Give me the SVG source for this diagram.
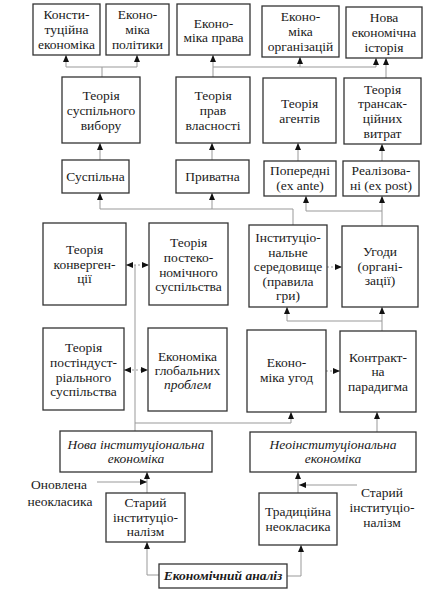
<svg xmlns="http://www.w3.org/2000/svg" width="439" height="596" viewBox="0 0 439 596">
<defs>
<marker id="ah" markerUnits="userSpaceOnUse" markerWidth="8" markerHeight="8" refX="7" refY="3" orient="auto-start-reverse">
<path d="M0,0 L7,3 L0,6 z" fill="#111"/>
</marker>
<style>
.b{fill:#fff;stroke:#333;stroke-width:1.3}
.t{font-family:"Liberation Serif","DejaVu Serif",serif;font-size:13.5px;fill:#1a1a1a;text-anchor:middle}
.i{font-style:italic}
.bi{font-style:italic;font-weight:bold}
.c{fill:none;stroke:#999;stroke-width:1}
.a{marker-end:url(#ah)}
.d{stroke-dasharray:2,2;marker-start:url(#ah);marker-end:url(#ah)}
.d1{stroke-dasharray:2,2;marker-end:url(#ah)}
</style>
</defs>
<rect width="439" height="596" fill="#fff"/>
<g id="connectors">
<path class="c" d="M102,77 V67 M66,67 H137"/>
<path class="c a" d="M66,67 V55"/>
<path class="c a" d="M137,67 V55"/>
<path class="c" d="M213,67 H376"/>
<path class="c a" d="M213,77 V55"/>
<path class="c a" d="M300,67 V57"/>
<path class="c a" d="M376,67 V58"/>
<path class="c a" d="M386,78 V58"/>
<path class="c a" d="M100,160 V143"/>
<path class="c a" d="M212,160 V143"/>
<path class="c a" d="M298,161 V143"/>
<path class="c a" d="M382,161 V144"/>
<path class="c" d="M293,225 V209 H100"/>
<path class="c a" d="M100,209 V193"/>
<path class="c a" d="M212,209 V193"/>
<path class="c" d="M382,226 V211 M306,211 H382"/>
<path class="c a" d="M306,211 V196"/>
<path class="c a" d="M382,211 V196"/>
<path class="c" d="M135,431 V265"/>
<path class="c d" d="M126,265 H149"/>
<path class="c d" d="M124,370 H148"/>
<path class="c d1" d="M327,267 H342"/>
<path class="c d1" d="M326,371 H340"/>
<path class="c a" d="M382,331 V307"/>
<path class="c" d="M382,321 H287"/>
<path class="c a" d="M287,321 V307"/>
<path class="c a" d="M135,423 H291 V412"/>
<path class="c a" d="M377,432 V412"/>
<path class="c a" d="M147,493 V472"/>
<path class="c a" d="M97,482 H147"/>
<path class="c a" d="M298,493 V472"/>
<path class="c a" d="M357,485 H299"/>
<path class="c a" d="M159,575 H147 V542"/>
<path class="c a" d="M287,576 H301 V545"/>
</g>
<g id="n1"><rect class="b" x="33" y="4" width="67" height="51"/><text class="t" x="66.5" y="19">Консти-</text><text class="t" x="66.5" y="34">туційна</text><text class="t" x="66.5" y="49">економіка</text></g>
<g id="n2"><rect class="b" x="106" y="4" width="63" height="51"/><text class="t" x="137.5" y="19">Еконо-</text><text class="t" x="137.5" y="34">міка</text><text class="t" x="137.5" y="49">політики</text></g>
<g id="n3"><rect class="b" x="177" y="4" width="73" height="51"/><text class="t" x="213.5" y="28">Еконо-</text><text class="t" x="213.5" y="42">міка права</text></g>
<g id="n4"><rect class="b" x="262" y="6" width="77" height="51"/><text class="t" x="300.5" y="21">Еконо-</text><text class="t" x="300.5" y="36">міка</text><text class="t" x="300.5" y="51">організацій</text></g>
<g id="n5"><rect class="b" x="346" y="7" width="76" height="51"/><text class="t" x="384" y="22">Нова</text><text class="t" x="384" y="37">економічна</text><text class="t" x="384" y="52">історія</text></g>
<g id="n6"><rect class="b" x="62" y="77" width="78" height="66"/><text class="t" x="101" y="99.5">Теорія</text><text class="t" x="101" y="114.5">суспільного</text><text class="t" x="101" y="129.5">вибору</text></g>
<g id="n7"><rect class="b" x="176" y="77" width="74" height="66"/><text class="t" x="213" y="99.5">Теорія</text><text class="t" x="213" y="114.5">прав</text><text class="t" x="213" y="129.5">власності</text></g>
<g id="n8"><rect class="b" x="263" y="78" width="73" height="65"/><text class="t" x="299.5" y="107.5">Теорія</text><text class="t" x="299.5" y="122.5">агентів</text></g>
<g id="n9"><rect class="b" x="344" y="78" width="77" height="66"/><text class="t" x="382.5" y="93.5">Теорія</text><text class="t" x="382.5" y="108">трансак-</text><text class="t" x="382.5" y="122.5">ційних</text><text class="t" x="382.5" y="137.5">витрат</text></g>
<g id="n10"><rect class="b" x="62" y="160" width="67" height="33"/><text class="t" x="95.5" y="181">Суспільна</text></g>
<g id="n11"><rect class="b" x="176" y="160" width="73" height="33"/><text class="t" x="212.5" y="181">Приватна</text></g>
<g id="n12"><rect class="b" x="264" y="161" width="72" height="35"/><text class="t" x="300" y="175">Попередні</text><text class="t" x="300" y="189.5">(ex ante)</text></g>
<g id="n13"><rect class="b" x="343" y="161" width="76" height="35"/><text class="t" x="381" y="175">Реалізова-</text><text class="t" x="381" y="189.5">ні (ex post)</text></g>
<g id="n14"><rect class="b" x="43" y="223" width="83" height="82"/><text class="t" x="84.5" y="254">Теорія</text><text class="t" x="84.5" y="269">конверген-</text><text class="t" x="84.5" y="283">ції</text></g>
<g id="n15"><rect class="b" x="149" y="223" width="79" height="82"/><text class="t" x="188.5" y="247">Теорія</text><text class="t" x="188.5" y="262">постеко-</text><text class="t" x="188.5" y="277">номічного</text><text class="t" x="188.5" y="291">суспільства</text></g>
<g id="n16"><rect class="b" x="249" y="225" width="78" height="82"/><text class="t" x="288" y="242">Інституціо-</text><text class="t" x="288" y="256.5">нальне</text><text class="t" x="288" y="271">середовище</text><text class="t" x="288" y="285.5">(правила</text><text class="t" x="288" y="300">гри)</text></g>
<g id="n17"><rect class="b" x="342" y="226" width="76" height="81"/><text class="t" x="380" y="256">Угоди</text><text class="t" x="380" y="271">(органі-</text><text class="t" x="380" y="285">зації)</text></g>
<g id="n18"><rect class="b" x="43" y="328" width="81" height="82"/><text class="t" x="83.5" y="352">Теорія</text><text class="t" x="83.5" y="367">постіндуст-</text><text class="t" x="83.5" y="382">ріального</text><text class="t" x="83.5" y="396">суспільства</text></g>
<g id="n19"><rect class="b" x="148" y="328" width="79" height="83"/><text class="t" x="187.5" y="361">Економіка</text><text class="t" x="187.5" y="375">глобальних</text><text class="t i" x="187.5" y="389">проблем</text></g>
<g id="n20"><rect class="b" x="247" y="330" width="79" height="82"/><text class="t" x="286.5" y="367">Еконо-</text><text class="t" x="286.5" y="382">міка угод</text></g>
<g id="n21"><rect class="b" x="340" y="331" width="76" height="81"/><text class="t" x="378" y="362">Контракт-</text><text class="t" x="378" y="376">на</text><text class="t" x="378" y="391">парадигма</text></g>
<g id="n22"><rect class="b" x="60" y="431" width="152" height="41"/><text class="t i" x="136" y="449">Нова інституціональна</text><text class="t i" x="136" y="463">економіка</text></g>
<g id="n23"><rect class="b" x="250" y="432" width="166" height="40"/><text class="t i" x="333" y="449">Неоінституціональна</text><text class="t i" x="333" y="463">економіка</text></g>
<g id="n24"><rect class="b" x="106" y="493" width="79" height="49"/><text class="t" x="145.5" y="507">Старий</text><text class="t" x="145.5" y="522">інституціо-</text><text class="t" x="145.5" y="536">налізм</text></g>
<g id="n25"><rect class="b" x="259" y="493" width="78" height="52"/><text class="t" x="298" y="516">Традиційна</text><text class="t" x="298" y="531">неокласика</text></g>
<g id="n26"><rect class="b" x="159" y="564" width="128" height="24"/><text class="t bi" x="223" y="580">Економічний аналіз</text></g>
<g id="l1"><text class="t" x="59" y="489">Оновлена</text><text class="t" x="60" y="506">неокласика</text></g>
<g id="l2"><text class="t" x="382" y="497">Старий</text><text class="t" x="382" y="512">інституціо-</text><text class="t" x="382" y="527">налізм</text></g>
</svg>
